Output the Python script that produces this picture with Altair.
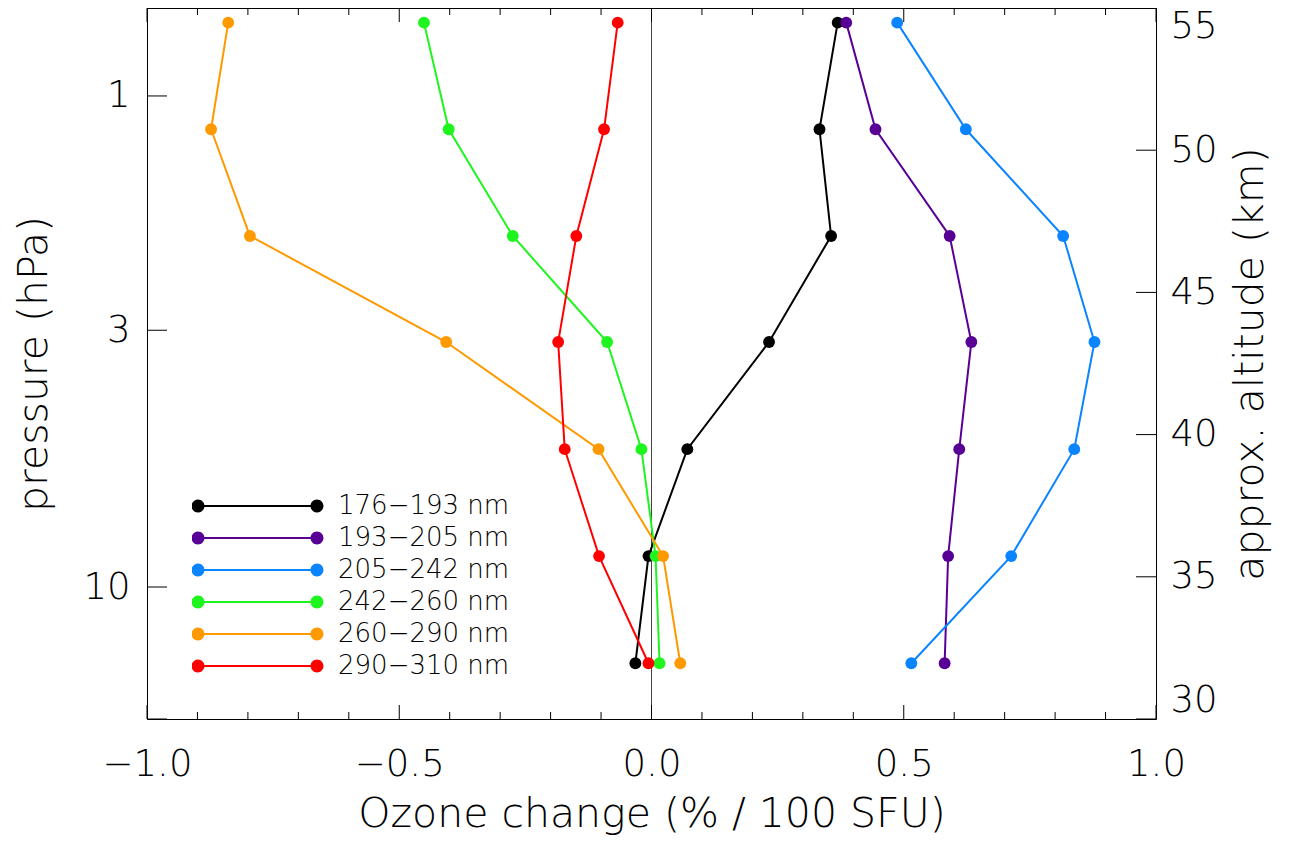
import altair as alt
import pandas as pd

# ---- data ----
bands = ["176−193 nm", "193−205 nm", "205−242 nm", "242−260 nm", "260−290 nm", "290−310 nm"]
colors = ["#000000", "#580096", "#0a84ff", "#1ef51e", "#ff9900", "#ff0000"]
pressure = [0.709, 1.169, 1.928, 3.17, 5.24, 8.65, 14.30]

ch_176_193 = [0.369, 0.333, 0.356, 0.233, 0.071, -0.006, -0.032]
ch_193_205 = [0.386, 0.444, 0.591, 0.634, 0.610, 0.588, 0.581]
ch_205_242 = [0.487, 0.623, 0.816, 0.878, 0.838, 0.713, 0.515]
ch_242_260 = [-0.451, -0.402, -0.275, -0.088, -0.020, 0.008, 0.016]
ch_260_290 = [-0.839, -0.873, -0.796, -0.407, -0.105, 0.023, 0.057]
ch_290_310 = [-0.067, -0.094, -0.149, -0.185, -0.172, -0.104, -0.006]

x_major = [-1.0, -0.5, 0.0, 0.5, 1.0]
x_minor = [-0.9, -0.8, -0.7, -0.6, -0.4, -0.3, -0.2, -0.1,
           0.1, 0.2, 0.3, 0.4, 0.6, 0.7, 0.8, 0.9]
p_domain = [0.662, 18.57]
p_labels = [1, 3, 10]
p_ticks = [0.662, 1, 3, 10, 18.57]
alt_ticks = [30, 35, 40, 45, 50, 55]
zero_line = [0.0]

series = [ch_176_193, ch_193_205, ch_205_242, ch_242_260, ch_260_290, ch_290_310]
rows = []
for b, c, vals in zip(bands, colors, series):
    for p, v in zip(pressure, vals):
        rows.append({"band": b, "line_color": c, "pressure": p, "change": v})
df = pd.DataFrame(rows)
zero_df = pd.DataFrame({"change": zero_line})
alt_df = pd.DataFrame({"altitude": alt_ticks})
xmin_df = pd.DataFrame({"change": x_minor})
xmaj_df = pd.DataFrame({"change": x_major})
pt_df = pd.DataFrame({"pressure": p_ticks})

FONT = "DejaVu Sans"
FW = 300
W, H = 1009, 711

xscale = alt.Scale(domain=[-1, 1], nice=False, zero=False)
pscale = alt.Scale(type="log", domain=p_domain, reverse=True, nice=False)
ascale = alt.Scale(domain=[30, 55], nice=False, zero=False)
cscale = alt.Scale(domain=bands, range=colors)

xaxis = alt.Axis(orient="bottom", values=x_major, format=".1f", ticks=False,
                 tickSize=0, domain=False, grid=False, labelPadding=27,
                 labelFlush=False, title="Ozone change (% / 100 SFU)", titlePadding=12)


def xenc():
    return alt.X("change:Q", scale=xscale, axis=xaxis)


# legend glyph: a line with a filled dot at each end (all sub-paths clockwise)
LEG_PATH = ("M-0.908,-0.016L0.908,-0.016L0.908,0.016L-0.908,0.016Z"
            "M-1.007,0A0.099,0.099 0 1,1 -0.809,0A0.099,0.099 0 1,1 -1.007,0Z"
            "M0.809,0A0.099,0.099 0 1,1 1.007,0A0.099,0.099 0 1,1 0.809,0Z")

base = alt.Chart(df)

lines = base.mark_line(strokeWidth=2).encode(
    x=xenc(),
    y=alt.Y("pressure:Q", scale=pscale,
            axis=alt.Axis(orient="left", values=p_labels, format="d", ticks=False,
                          tickSize=0, domain=False, grid=False, labelPadding=17,
                          labelFlush=False,
                          title="pressure (hPa)", titlePadding=27)),
    stroke=alt.Stroke("line_color:N", scale=None),
    detail="band:N",
    order=alt.Order("pressure:Q"),
)

points = base.mark_circle(size=140, opacity=1).encode(
    x=xenc(),
    y=alt.Y("pressure:Q", scale=pscale, axis=None),
    color=alt.Color("band:N", scale=cscale,
                    legend=alt.Legend(title=None, orient="none", legendX=45, legendY=485,
                                      symbolType=LEG_PATH, symbolSize=17161,
                                      symbolStrokeWidth=0, symbolOpacity=1,
                                      clipHeight=26,
                                      labelFont=FONT, labelFontWeight=FW, labelFontSize=26,
                                      labelColor="#000000",
                                      labelOffset=15, rowPadding=6, padding=0, labelLimit=0)),
)

zero = alt.Chart(zero_df).mark_rule(color="#444444", strokeWidth=1).encode(x=xenc())

tick_color = "#000000"
bottom_minor = alt.Chart(xmin_df).mark_rule(color=tick_color, strokeWidth=1).encode(
    x=xenc(), y=alt.value(H - 7), y2=alt.value(H))
top_minor = alt.Chart(xmin_df).mark_rule(color=tick_color, strokeWidth=1).encode(
    x=xenc(), y=alt.value(0), y2=alt.value(7))
bottom_major = alt.Chart(xmaj_df).mark_rule(color=tick_color, strokeWidth=1).encode(
    x=xenc(), y=alt.value(H - 14), y2=alt.value(H))
top_major = alt.Chart(xmaj_df).mark_rule(color=tick_color, strokeWidth=1).encode(
    x=xenc(), y=alt.value(0), y2=alt.value(14))
left_ticks = alt.Chart(pt_df).mark_rule(color=tick_color, strokeWidth=1).encode(
    y=alt.Y("pressure:Q", scale=pscale, axis=None), x=alt.value(0), x2=alt.value(20))

alt_labels = alt.Chart(alt_df).mark_rule(color=tick_color, strokeWidth=1).encode(
    y=alt.Y("altitude:Q", scale=ascale,
            axis=alt.Axis(orient="right", values=alt_ticks, ticks=False, tickSize=0,
                          domain=False, grid=False, labelFlush=True, labelPadding=14,
                          title="approx. altitude (km)", titleAngle=270,
                          titleBaseline="top", titlePadding=13)),
    x=alt.value(W - 20), x2=alt.value(W),
)

chart = alt.layer(
    zero, bottom_minor, top_minor, bottom_major, top_major, left_ticks,
    lines, points, alt_labels
).resolve_scale(
    y="independent"
).properties(
    width=W, height=H,
    autosize=alt.AutoSizeParams(type="none"),
    padding={"left": 139, "top": 0, "right": 134, "bottom": 120},
).configure_view(
    stroke="#000000", strokeWidth=1
).configure_axis(
    labelFont=FONT, labelFontSize=37, labelColor="#000000", labelFontWeight=FW,
    titleFont=FONT, titleFontSize=41, titleFontWeight=FW, titleColor="#000000",
)

chart.save("out.html", embed_options={"renderer": "svg", "actions": False})
